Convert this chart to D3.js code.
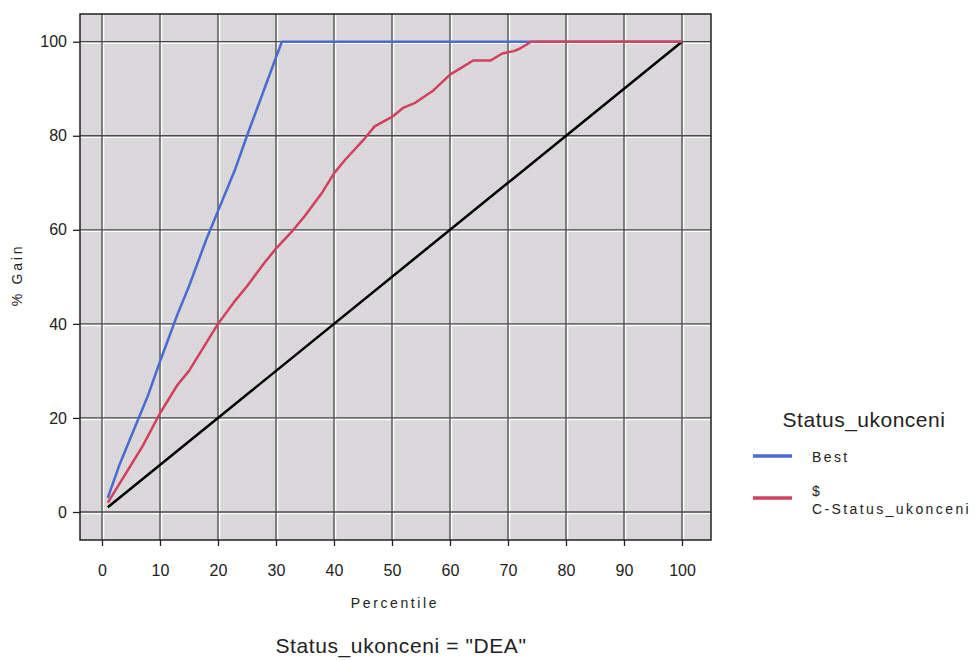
<!DOCTYPE html>
<html>
<head>
<meta charset="utf-8">
<script src="https://cdn.jsdelivr.net/npm/d3@7/dist/d3.min.js"></script>
<style>
  body { margin: 0; background: #fff; }
  text { font-family: "Liberation Sans", Arial, sans-serif; }
</style>
</head>
<body>
<svg id="svg" width="976" height="660"></svg>
<script>
// gains chart values (percentile, % gain)
const baselinePct = [1, 100]
const baselineGain = [1, 100]

const bestPct =  [1, 3, 5, 8, 10, 13, 15, 18, 20, 23, 25, 28, 31, 100]
const bestGain = [3, 10, 16, 25, 32, 42, 48, 58, 64, 73, 80, 90, 100, 100]

const modelPct =  [1, 3, 5, 7, 10, 13, 15, 18, 20, 23, 25, 28, 30, 33, 35, 38, 40, 42, 45, 47, 50, 52, 54, 57, 60, 62, 64, 66, 67, 69, 71, 72, 74, 100]
const modelGain = [2, 6, 10, 14, 21, 27, 30, 36, 40, 45, 48, 53, 56, 60, 63, 68, 72, 75, 79, 82, 84, 86, 87, 89.5, 93, 94.5, 96, 96, 96, 97.5, 98, 98.5, 100, 100]

const xTicks = [0, 10, 20, 30, 40, 50, 60, 70, 80, 90, 100]
const yTicks = [0, 20, 40, 60, 80, 100]

const legendTitle = "Status_ukonceni"
const legendLabels = [["Best"], ["$", "C-Status_ukonceni"]]
const seriesColors = ["#4a6bd0", "#d2405e"]

const svg = d3.select("#svg")

// plot frame
const frameL = 80, frameR = 711, frameT = 14, frameB = 540

const x = d3.scaleLinear().domain([0, 100]).range([102, 682])
const y = d3.scaleLinear().domain([0, 100]).range([512, 41.7])

// hatched light grey background like the SPSS chart
const defs = svg.append("defs")
const pat = defs.append("pattern")
    .attr("id", "dots")
    .attr("width", 2).attr("height", 2)
    .attr("patternUnits", "userSpaceOnUse")
pat.append("rect").attr("width", 2).attr("height", 2).attr("fill", "#dcdadc")
pat.append("rect").attr("width", 1).attr("height", 1).attr("fill", "#d2d0d2")

svg.append("rect")
    .attr("x", frameL).attr("y", frameT)
    .attr("width", frameR - frameL).attr("height", frameB - frameT)
    .attr("fill", "url(#dots)")

// grid: dark line with a white line next to it
const grid = svg.append("g")
grid.selectAll("line.vw").data(xTicks).join("line")
    .attr("x1", d => x(d) + 1.5).attr("x2", d => x(d) + 1.5)
    .attr("y1", frameT).attr("y2", frameB)
    .attr("stroke", "#fff").attr("stroke-width", 1.5)
grid.selectAll("line.hw").data(yTicks).join("line")
    .attr("y1", d => y(d) + 1.5).attr("y2", d => y(d) + 1.5)
    .attr("x1", frameL).attr("x2", frameR)
    .attr("stroke", "#fff").attr("stroke-width", 1.5)
grid.selectAll("line.v").data(xTicks).join("line")
    .attr("x1", d => x(d)).attr("x2", d => x(d))
    .attr("y1", frameT).attr("y2", frameB)
    .attr("stroke", "#4a4a4a").attr("stroke-width", 1.3)
grid.selectAll("line.h").data(yTicks).join("line")
    .attr("y1", d => y(d)).attr("y2", d => y(d))
    .attr("x1", frameL).attr("x2", frameR)
    .attr("stroke", "#4a4a4a").attr("stroke-width", 1.3)

// series
const line = d3.line().x(d => x(d[0])).y(d => y(d[1]))
const lines = svg.append("g").attr("fill", "none").attr("stroke-linejoin", "round")

lines.append("path")
    .attr("d", line(d3.zip(baselinePct, baselineGain)))
    .attr("stroke", "#000").attr("stroke-width", 2.5)
lines.append("path")
    .attr("d", line(d3.zip(bestPct, bestGain)))
    .attr("stroke", seriesColors[0]).attr("stroke-width", 2.5)
lines.append("path")
    .attr("d", line(d3.zip(modelPct, modelGain)))
    .attr("stroke", seriesColors[1]).attr("stroke-width", 2.5)

// frame
svg.append("rect")
    .attr("x", frameL).attr("y", frameT)
    .attr("width", frameR - frameL).attr("height", frameB - frameT)
    .attr("fill", "none").attr("stroke", "#222").attr("stroke-width", 1.5)

// axes
const xAxis = svg.append("g")
    .attr("transform", `translate(0,${frameB})`)
    .call(d3.axisBottom(x).tickValues(xTicks).tickSize(6).tickPadding(19))
const yAxis = svg.append("g")
    .attr("transform", `translate(${frameL},0)`)
    .call(d3.axisLeft(y).tickValues(yTicks).tickSize(7).tickPadding(6))

for (const ax of [xAxis, yAxis]) {
  ax.select(".domain").remove()
  ax.selectAll(".tick line").attr("stroke", "#222").attr("stroke-width", 1.3)
  ax.selectAll(".tick text")
    .attr("font-family", "Liberation Sans, Arial, sans-serif")
    .attr("font-size", 16).attr("fill", "#222")
}

svg.append("text")
    .attr("x", 395).attr("y", 608)
    .attr("text-anchor", "middle")
    .attr("font-size", 14).attr("letter-spacing", 2.6)
    .attr("fill", "#222")
    .text("Percentile")

svg.append("text")
    .attr("transform", "translate(22,275) rotate(-90)")
    .attr("text-anchor", "middle")
    .attr("font-size", 14).attr("letter-spacing", 2.8)
    .attr("fill", "#222")
    .text("% Gain")

svg.append("text")
    .attr("x", 401).attr("y", 653)
    .attr("text-anchor", "middle")
    .attr("font-size", 21).attr("letter-spacing", 0.6)
    .attr("fill", "#222")
    .text('Status_ukonceni = "DEA"')

// legend
const legend = svg.append("g")
legend.append("text")
    .attr("x", 864).attr("y", 427)
    .attr("text-anchor", "middle")
    .attr("font-size", 21).attr("letter-spacing", 0.5).attr("fill", "#222")
    .text(legendTitle)

const rowY = [456, 498]
legendLabels.forEach((lab, i) => {
  legend.append("line")
      .attr("x1", 753).attr("x2", 792)
      .attr("y1", rowY[i]).attr("y2", rowY[i])
      .attr("stroke", seriesColors[i]).attr("stroke-width", 3.5)
  const t = legend.append("text")
      .attr("x", 812).attr("y", i === 0 ? rowY[i] + 6 : rowY[i] - 2)
      .attr("font-size", 14).attr("letter-spacing", 2.4).attr("fill", "#222")
  lab.forEach((s, j) => t.append("tspan").attr("x", 812).attr("dy", j === 0 ? 0 : 18).text(s))
})
</script>
</body>
</html>
